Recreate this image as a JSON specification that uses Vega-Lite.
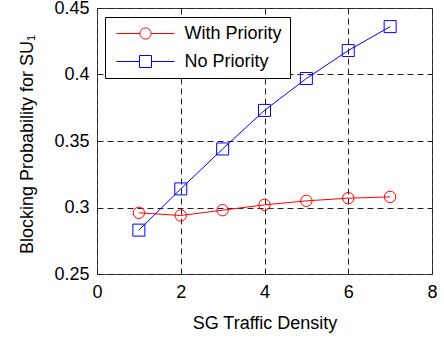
{
  "$schema": "https://vega.github.io/schema/vega-lite/v6.json",
  "width": 335,
  "height": 266,
  "autosize": "none",
  "padding": {"left": 97, "top": 8, "right": 12, "bottom": 65},
  "background": "white",
  "config": {
    "font": "Liberation Sans",
    "view": {"stroke": "#444444", "strokeWidth": 1},
    "axis": {
      "grid": true, "gridColor": "#222222", "gridDash": [6, 4], "gridOpacity": 1, "gridWidth": 1,
      "domain": false, "ticks": false,
      "labelFontSize": 18, "labelColor": "#000000", "labelFont": "Liberation Sans",
      "titleFontSize": 18, "titleFontWeight": "normal", "titleColor": "#000000", "titleFont": "Liberation Sans",
      "labelFlush": false, "labelOverlap": false
    },
    "legend": {
      "orient": "none", "legendX": 8, "legendY": 9,
      "strokeColor": "#000000", "fillColor": "#ffffff", "padding": 7.5,
      "labelFontSize": 18, "labelColor": "#000000", "labelFont": "Liberation Sans",
      "symbolSize": 3364, "symbolStrokeWidth": 1, "symbolOffset": 3.5, "labelOffset": 9.5,
      "symbolOpacity": 1, "symbolFillColor": "transparent",
      "clipHeight": 18, "rowPadding": 10
    }
  },
  "data": {
    "values": [
      {"series": "With Priority", "density": 1, "prob": 0.296},
      {"series": "With Priority", "density": 2, "prob": 0.294},
      {"series": "With Priority", "density": 3, "prob": 0.298},
      {"series": "With Priority", "density": 4, "prob": 0.302},
      {"series": "With Priority", "density": 5, "prob": 0.305},
      {"series": "With Priority", "density": 6, "prob": 0.307},
      {"series": "With Priority", "density": 7, "prob": 0.308},
      {"series": "No Priority", "density": 1, "prob": 0.283},
      {"series": "No Priority", "density": 2, "prob": 0.314},
      {"series": "No Priority", "density": 3, "prob": 0.344},
      {"series": "No Priority", "density": 4, "prob": 0.373},
      {"series": "No Priority", "density": 5, "prob": 0.397},
      {"series": "No Priority", "density": 6, "prob": 0.418},
      {"series": "No Priority", "density": 7, "prob": 0.436}
    ]
  },
  "encoding": {
    "x": {
      "field": "density", "type": "quantitative",
      "scale": {"domain": [0, 8], "nice": false},
      "axis": {"values": [0, 2, 4, 6, 8], "title": "SG Traffic Density", "labelPadding": 9, "titleY": 54, "titleBaseline": "alphabetic"}
    },
    "y": {
      "field": "prob", "type": "quantitative",
      "scale": {"domain": [0.25, 0.45], "nice": false, "zero": false},
      "axis": {"values": [0.25, 0.3, 0.35, 0.4, 0.45], "format": "~g", "title": "Blocking Probability for SU₁", "labelPadding": 8,
        "titleX": -65, "titleY": 136, "titleAngle": -90, "titleAlign": "center", "titleBaseline": "alphabetic"}
    },
    "color": {
      "field": "series", "type": "nominal",
      "scale": {"domain": ["With Priority", "No Priority"], "range": ["#ff0000", "#0000ff"]},
      "legend": {"title": null}
    }
  },
  "layer": [
    {"mark": {"type": "line", "strokeWidth": 1}},
    {
      "transform": [{"filter": "datum.series === 'With Priority'"}],
      "mark": {"type": "point", "shape": "circle", "filled": false, "size": 130, "strokeWidth": 1, "opacity": 1}
    },
    {
      "transform": [{"filter": "datum.series === 'No Priority'"}],
      "mark": {"type": "point", "shape": "square", "filled": false, "size": 144, "strokeWidth": 1, "opacity": 1}
    },
    {
      "mark": {"type": "point", "filled": false, "opacity": 0},
      "encoding": {
        "shape": {
          "field": "series", "type": "nominal",
          "scale": {"domain": ["With Priority", "No Priority"], "range": [
            "M-1,0H-0.193M0.193,0H1M-0.193,0A0.193,0.193 0 1,0 0.193,0A0.193,0.193 0 1,0 -0.193,0Z",
            "M-1,0H-0.207M0.207,0H1M-0.207,-0.207H0.207V0.207H-0.207Z"
          ]},
          "legend": {"title": null}
        }
      }
    }
  ]
}
